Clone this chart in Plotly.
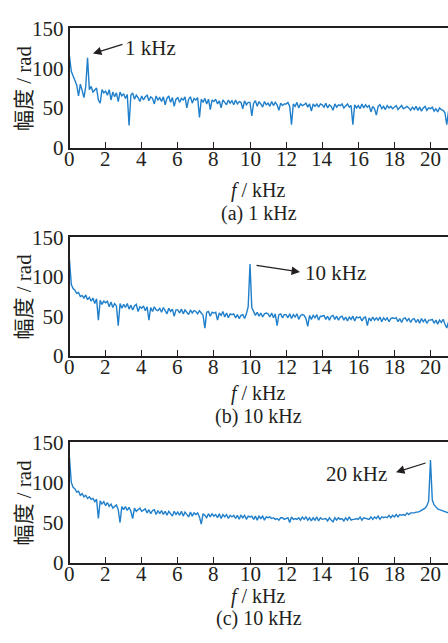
import plotly.graph_objects as go

freq_khz = [
    0.0, 0.1, 0.2, 0.3, 0.4, 0.5, 0.6, 0.7, 0.8, 0.9,
    1.0, 1.1, 1.2, 1.3, 1.4, 1.5, 1.6, 1.7, 1.8, 1.9,
    2.0, 2.1, 2.2, 2.3, 2.4, 2.5, 2.6, 2.7, 2.8, 2.9,
    3.0, 3.1, 3.2, 3.3, 3.4, 3.5, 3.6, 3.7, 3.8, 3.9,
    4.0, 4.1, 4.2, 4.3, 4.4, 4.5, 4.6, 4.7, 4.8, 4.9,
    5.0, 5.1, 5.2, 5.3, 5.4, 5.5, 5.6, 5.7, 5.8, 5.9,
    6.0, 6.1, 6.2, 6.3, 6.4, 6.5, 6.6, 6.7, 6.8, 6.9,
    7.0, 7.1, 7.2, 7.3, 7.4, 7.5, 7.6, 7.7, 7.8, 7.9,
    8.0, 8.1, 8.2, 8.3, 8.4, 8.5, 8.6, 8.7, 8.8, 8.9,
    9.0, 9.1, 9.2, 9.3, 9.4, 9.5, 9.6, 9.7, 9.8, 9.9,
    10.0, 10.1, 10.2, 10.3, 10.4, 10.5, 10.6, 10.7, 10.8, 10.9,
    11.0, 11.1, 11.2, 11.3, 11.4, 11.5, 11.6, 11.7, 11.8, 11.9,
    12.0, 12.1, 12.2, 12.3, 12.4, 12.5, 12.6, 12.7, 12.8, 12.9,
    13.0, 13.1, 13.2, 13.3, 13.4, 13.5, 13.6, 13.7, 13.8, 13.9,
    14.0, 14.1, 14.2, 14.3, 14.4, 14.5, 14.6, 14.7, 14.8, 14.9,
    15.0, 15.1, 15.2, 15.3, 15.4, 15.5, 15.6, 15.7, 15.8, 15.9,
    16.0, 16.1, 16.2, 16.3, 16.4, 16.5, 16.6, 16.7, 16.8, 16.9,
    17.0, 17.1, 17.2, 17.3, 17.4, 17.5, 17.6, 17.7, 17.8, 17.9,
    18.0, 18.1, 18.2, 18.3, 18.4, 18.5, 18.6, 18.7, 18.8, 18.9,
    19.0, 19.1, 19.2, 19.3, 19.4, 19.5, 19.6, 19.7, 19.8, 19.9,
    20.0, 20.1, 20.2, 20.3, 20.4, 20.5, 20.6, 20.7, 20.8, 20.9,
    21.0,
]

amp_1khz = [
    115, 96, 90, 84, 79, 65, 80, 72, 63, 77,
    113, 73, 77, 70, 72, 75, 60, 56, 73, 69,
    71, 66, 73, 60, 70, 64, 69, 58, 70, 65,
    68, 62, 67, 28, 66, 69, 61, 66, 63, 58,
    65, 60, 64, 66, 59, 64, 62, 55, 65, 60,
    63, 58, 64, 54, 62, 65, 57, 63, 52, 61,
    63, 57, 62, 60, 64, 50, 61, 64, 56, 62,
    60, 63, 38, 61, 57, 62, 55, 61, 48, 60,
    58, 61, 55, 59, 50, 60, 57, 54, 60, 56,
    59, 54, 60, 55, 58, 57, 49, 59, 54, 57,
    57, 40, 56, 59, 52, 58, 55, 51, 58, 54,
    56, 52, 58, 53, 57, 54, 47, 56, 53, 55,
    55, 57, 52, 29, 55, 52, 57, 50, 55, 53,
    54, 56, 51, 55, 46, 55, 52, 55, 51, 55,
    54, 51, 56, 50, 54, 52, 47, 55, 51, 54,
    53, 55, 50, 53, 55, 51, 53, 29, 54, 50,
    53, 49, 55, 50, 54, 51, 53, 45, 52, 49,
    41, 52, 54, 49, 52, 48, 53, 50, 52, 49,
    51, 53, 48, 51, 53, 49, 50, 52, 50, 47,
    51, 48, 52, 47, 51, 46, 50, 52, 47, 50,
    49, 51, 46, 49, 45, 50, 48, 47, 44, 29,
    46,
]

amp_10khz = [
    121, 90, 85, 83, 79, 80, 75, 76, 73, 77,
    71, 74, 69, 73, 66, 72, 45, 70, 65, 69,
    67, 69, 62, 68, 61, 66, 63, 38, 66, 60,
    65, 61, 66, 59, 64, 58, 63, 65, 56, 62,
    60, 63, 57, 62, 45, 61, 56, 62, 58, 57,
    60, 55, 61, 57, 53, 60, 56, 59, 50, 58,
    58, 54, 59, 53, 58, 55, 52, 58, 54, 57,
    56, 53, 57, 54, 51, 35, 55, 56, 50, 55,
    54, 55, 45, 54, 51, 56, 49, 54, 48, 53,
    52, 53, 48, 52, 47, 51, 52, 47, 53, 62,
    116, 61, 56, 51, 55, 50, 54, 49, 53, 54,
    53, 49, 54, 48, 53, 38, 52, 53, 48, 52,
    52, 48, 53, 47, 52, 49, 53, 46, 51, 52,
    51, 47, 37, 51, 46, 51, 48, 52, 45, 50,
    50, 51, 46, 50, 45, 50, 51, 46, 50, 45,
    49, 50, 45, 49, 44, 49, 46, 50, 44, 49,
    48, 49, 44, 48, 49, 38, 48, 44, 49, 45,
    48, 45, 49, 43, 48, 45, 48, 43, 47, 48,
    47, 48, 43, 47, 42, 47, 48, 44, 47, 42,
    46, 47, 42, 46, 41, 47, 43, 46, 41, 45,
    45, 46, 41, 45, 40, 45, 42, 46, 40, 35,
    43,
]

amp_20khz = [
    131, 100, 94, 92, 88, 89, 84, 86, 82, 84,
    80, 82, 79, 80, 76, 79, 55, 77, 73, 76,
    71, 75, 70, 73, 68, 70, 72, 66, 50, 70,
    66, 70, 65, 69, 64, 55, 68, 64, 66, 68,
    64, 66, 67, 62, 66, 61, 65, 66, 60, 65,
    61, 65, 60, 64, 59, 64, 61, 58, 64, 60,
    63, 59, 64, 58, 63, 60, 57, 63, 58, 62,
    60, 62, 57, 48, 61, 59, 56, 61, 57, 61,
    58, 60, 56, 61, 55, 60, 57, 60, 55, 59,
    57, 59, 55, 59, 54, 59, 56, 59, 54, 58,
    57, 58, 54, 58, 53, 58, 55, 58, 53, 57,
    56, 57, 55, 56, 54, 55, 53, 56, 56, 54,
    55, 56, 50, 57, 54, 55, 54, 56, 53, 57,
    54, 57, 53, 56, 52, 56, 53, 57, 52, 56,
    54, 55, 55, 52, 56, 53, 51, 56, 53, 56,
    54, 55, 52, 56, 53, 57, 53, 54, 54, 55,
    54, 57, 53, 56, 55, 55, 54, 57, 54, 57,
    55, 58, 54, 57, 56, 57, 56, 59, 56, 59,
    57, 60, 57, 60, 59, 60, 59, 62, 60, 62,
    62, 62, 63, 63, 64, 65, 66, 68, 71, 77,
    128, 78, 72, 69, 67, 66, 65, 64, 63, 63,
    62,
]

series = [amp_1khz, amp_10khz, amp_20khz]
captions = ["(a) 1 kHz", "(b) 10 kHz", "(c) 10 kHz"]
x_ticks = [0, 2, 4, 6, 8, 10, 12, 14, 16, 18, 20]
y_ticks = [0, 50, 100, 150]

H = 643.0
W = 448.0
FONT = "Liberation Serif"
CJK = "Noto Sans CJK SC"
TXT = "#231f20"
LINE = "#1f7fcb"

# panel pixel positions (top, bottom) and text rows (x-title, caption)
panels_px = [(17, 141), (234, 357), (447, 572)]
text_rows = [(185, 209), (396, 420), (607, 630)]
x_left = 69.5 / W

fig = go.Figure()
annotations = []
for i, (vals, cap, (top, bot), (ty1, ty2)) in enumerate(zip(series, captions, panels_px, text_rows)):
    n = "" if i == 0 else str(i + 1)
    fig.add_trace(go.Scatter(x=freq_khz, y=vals, mode="lines",
                             line=dict(color=LINE, width=1.4),
                             xaxis="x" + n, yaxis="y" + n, showlegend=False))
    dom = [1 - bot / H, 1 - top / H]
    fig.layout["xaxis" + n] = dict(
        domain=[x_left, 1.0], range=[0, 20.97], anchor="y" + n,
        tickvals=x_ticks, ticks="inside", ticklen=6, tickwidth=1.3,
        tickcolor=TXT, showline=True, linecolor=TXT, linewidth=1.5,
        mirror=True, showgrid=False, zeroline=False, showticklabels=False)
    fig.layout["yaxis" + n] = dict(
        domain=dom, range=[0, 150], anchor="x" + n,
        tickvals=y_ticks, ticks="", showline=True, linecolor=TXT,
        linewidth=1.5, showgrid=False, zeroline=False,
        tickfont=dict(family=FONT, size=21, color=TXT))
    # x tick labels placed snugly under the axis (as in the reference)
    for t in x_ticks:
        annotations.append(dict(xref="x" + n, yref="paper", x=t, y=1 - (bot + 12) / H,
                                xanchor="center", yanchor="middle", text=str(t),
                                showarrow=False,
                                font=dict(family=FONT, size=21, color=TXT)))
    xc = (x_left + 1.0) / 2
    annotations.append(dict(xref="paper", yref="paper", x=xc, y=1 - ty1 / H,
                            xanchor="center", yanchor="middle",
                            text="<i>f</i> / kHz", showarrow=False,
                            font=dict(family=FONT, size=20, color=TXT)))
    annotations.append(dict(xref="paper", yref="paper", x=xc, y=1 - ty2 / H,
                            xanchor="center", yanchor="middle",
                            text=cap, showarrow=False,
                            font=dict(family=FONT, size=20, color=TXT)))
    annotations.append(dict(xref="paper", yref="paper", x=22 / W, y=1 - (top + bot) / 2 / H,
                            xanchor="center", yanchor="middle",
                            text="<span style='font-family:" + CJK + "'>幅度</span> / rad",
                            textangle=-90, showarrow=False,
                            font=dict(family=FONT, size=21, color=TXT)))

# peak labels and arrows (data coordinates)
arrow_specs = [
    ("x", "y", 1.30, 118.5, 3.02, 130.6),
    ("x2", "y2", 12.77, 106.0, 10.28, 114.6),
    ("x3", "y3", 18.09, 112.8, 19.81, 124.8),
]
for xr, yr, hx, hy, tx, ty in arrow_specs:
    annotations.append(dict(xref=xr, yref=yr, x=hx, y=hy, axref=xr, ayref=yr,
                            ax=tx, ay=ty, text="", showarrow=True, arrowhead=2,
                            arrowsize=1.3, arrowwidth=1.3, arrowcolor=TXT))

label_specs = [
    ("x", "y", 2.96, 125.8, "1 kHz", "left"),
    ("x2", "y2", 12.94, 104.9, "10 kHz", "left"),
    ("x3", "y3", 17.7, 110.4, "20 kHz", "right"),
]
for xr, yr, lx, ly, t, anc in label_specs:
    annotations.append(dict(xref=xr, yref=yr, x=lx, y=ly, text=t, xanchor=anc,
                            yanchor="middle", showarrow=False,
                            font=dict(family=FONT, size=21, color=TXT)))

fig.update_layout(width=448, height=643, margin=dict(l=0, r=0, t=0, b=0),
                  paper_bgcolor="white", plot_bgcolor="white",
                  annotations=annotations)

fig.write_html("out.html")
